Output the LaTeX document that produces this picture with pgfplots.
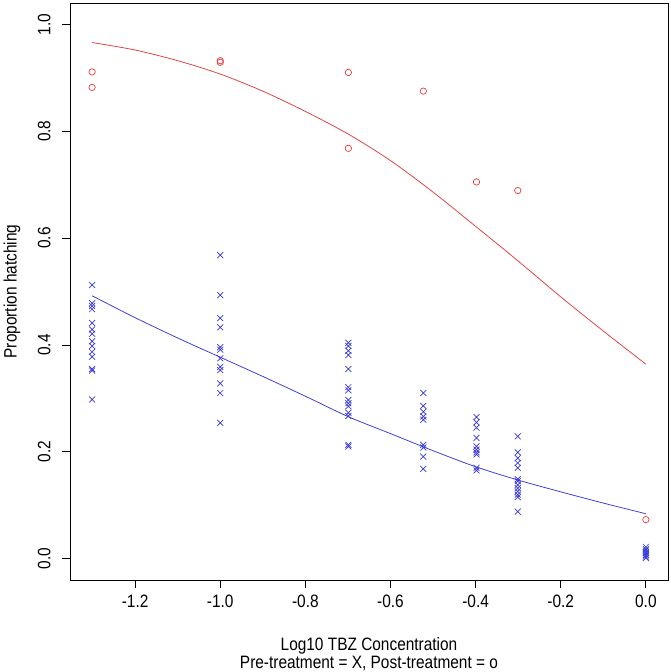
\documentclass[border=0pt]{standalone}
\usepackage{pgfplots}
\pgfplotsset{compat=1.18}
\usepackage{fontspec}
\setmainfont{Liberation Sans}[FakeStretch=0.86]
\definecolor{rred}{RGB}{225,60,60}
\definecolor{rblue}{RGB}{55,55,220}
\begin{document}
\begin{tikzpicture}
\useasboundingbox (-70bp,-92bp) rectangle (601bp,580bp);
\begin{axis}[
  scale only axis,
  width=598bp, height=577bp,
  at={(0,0)}, anchor=south west,
  xmin=-1.353, xmax=0.052,
  ymin=-0.04, ymax=1.04,
  axis line style={black, line width=0.8bp},
  xtick={-1.2,-1.0,-0.8,-0.6,-0.4,-0.2,0},
  xticklabels={-1.2,-1.0,-0.8,-0.6,-0.4,-0.2,0.0},
  ytick={0,0.2,0.4,0.6,0.8,1.0},
  yticklabels={0.0,0.2,0.4,0.6,0.8,1.0},
  xtick pos=left, ytick pos=left,
  tick align=outside,
  major tick length=8bp,
  tick style={black, line width=0.8bp},
  ticklabel style={font=\fontsize{18}{20}\selectfont},
  xticklabel style={yshift=-3bp},
  yticklabel style={rotate=90, anchor=south, yshift=8bp},
  xlabel={Log10 TBZ Concentration\\Pre-treatment = X, Post-treatment = o},
  xlabel style={at={([yshift=-74bp]axis description cs:0.5,0)}, anchor=center, align=center, font=\fontsize{18}{18.5}\selectfont},
  ylabel={Proportion hatching},
  ylabel style={at={([xshift=-58bp]axis description cs:0,0.5)}, anchor=center, font=\fontsize{18}{20}\selectfont},
  clip=false,
]
% blue crosses (pre-treatment)
\addplot[only marks, mark=x, mark size=4.2bp, rblue, mark options={line width=0.7bp}] coordinates {
(-1.30103,0.512) (-1.30103,0.478) (-1.30103,0.473) (-1.30103,0.467) (-1.30103,0.441) (-1.30103,0.429) (-1.30103,0.421) (-1.30103,0.407) (-1.30103,0.398) (-1.30103,0.387) (-1.30103,0.378) (-1.30103,0.355) (-1.30103,0.352) (-1.30103,0.298)
(-1,0.568) (-1,0.493) (-1,0.450) (-1,0.433) (-1,0.396) (-1,0.391) (-1,0.375) (-1,0.359) (-1,0.353) (-1,0.328) (-1,0.310) (-1,0.254)
(-0.69897,0.404) (-0.69897,0.398) (-0.69897,0.389) (-0.69897,0.381) (-0.69897,0.355) (-0.69897,0.321) (-0.69897,0.315) (-0.69897,0.297) (-0.69897,0.291) (-0.69897,0.285) (-0.69897,0.273) (-0.69897,0.267) (-0.69897,0.213) (-0.69897,0.210)
(-0.52288,0.310) (-0.52288,0.286) (-0.52288,0.275) (-0.52288,0.266) (-0.52288,0.260) (-0.52288,0.213) (-0.52288,0.208) (-0.52288,0.191) (-0.52288,0.168)
(-0.39794,0.265) (-0.39794,0.255) (-0.39794,0.245) (-0.39794,0.226) (-0.39794,0.210) (-0.39794,0.204) (-0.39794,0.199) (-0.39794,0.195) (-0.39794,0.170) (-0.39794,0.165)
(-0.30103,0.229) (-0.30103,0.199) (-0.30103,0.188) (-0.30103,0.179) (-0.30103,0.170) (-0.30103,0.149) (-0.30103,0.145) (-0.30103,0.138) (-0.30103,0.132) (-0.30103,0.126) (-0.30103,0.120) (-0.30103,0.115) (-0.30103,0.088)
(0,0.022) (0,0.018) (0,0.015) (0,0.012) (0,0.010) (0,0.007) (0,0.004) (0,0.001)
};
% red circles (post-treatment)
\addplot[only marks, mark=o, mark size=3.2bp, rred, mark options={line width=0.7bp}] coordinates {
(-1.30103,0.911) (-1.30103,0.882) (-1,0.932) (-1,0.929) (-0.69897,0.910) (-0.69897,0.768) (-0.52288,0.875) (-0.39794,0.705) (-0.30103,0.689) (0,0.073)
};
% fitted curves
\addplot[rred, line width=0.75bp, no marks, smooth, tension=0.5] coordinates {
(-1.30103,0.966) (-1.2,0.952) (-1.1,0.932) (-1.0,0.907) (-0.9,0.875) (-0.8,0.837) (-0.7,0.795) (-0.6,0.745) (-0.5,0.686) (-0.4,0.622) (-0.3,0.557) (-0.2,0.490) (-0.1,0.426) (0,0.364)
};
\addplot[rblue, line width=0.75bp, no marks, smooth, tension=0.5] coordinates {
(-1.30103,0.492) (-1.2,0.451) (-1.1,0.413) (-1.0,0.377) (-0.9,0.341) (-0.8,0.304) (-0.7,0.266) (-0.6,0.234) (-0.5,0.202) (-0.4,0.172) (-0.3,0.147) (-0.2,0.125) (-0.1,0.104) (0,0.084)
};
\end{axis}
\end{tikzpicture}
\end{document}
